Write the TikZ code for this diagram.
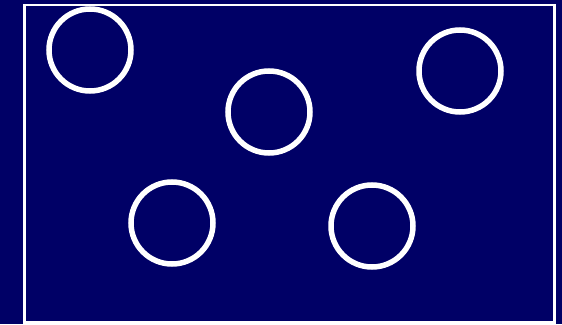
\documentclass[tikz,border=0pt]{standalone}
\definecolor{navy}{RGB}{0,0,102}
\tikzset{ring/.style={circle,draw=white,line width=5.5pt,minimum size=82pt,inner sep=0pt}}
\begin{document}
\begin{tikzpicture}[x=1pt,y=-1pt]
\fill[navy] (0,0) rectangle (562,324);
\useasboundingbox (0,0) rectangle (562,324);
\draw[white,line width=2.5pt] (24.5,5) rectangle (554.5,322.5);
\node[ring] (c1) at (90,50) {};
\node[ring] (c2) at (460,71) {};
\node[ring] (c3) at (269,112) {};
\node[ring] (c4) at (172,223) {};
\node[ring] (c5) at (372,226) {};
\end{tikzpicture}
\end{document}
